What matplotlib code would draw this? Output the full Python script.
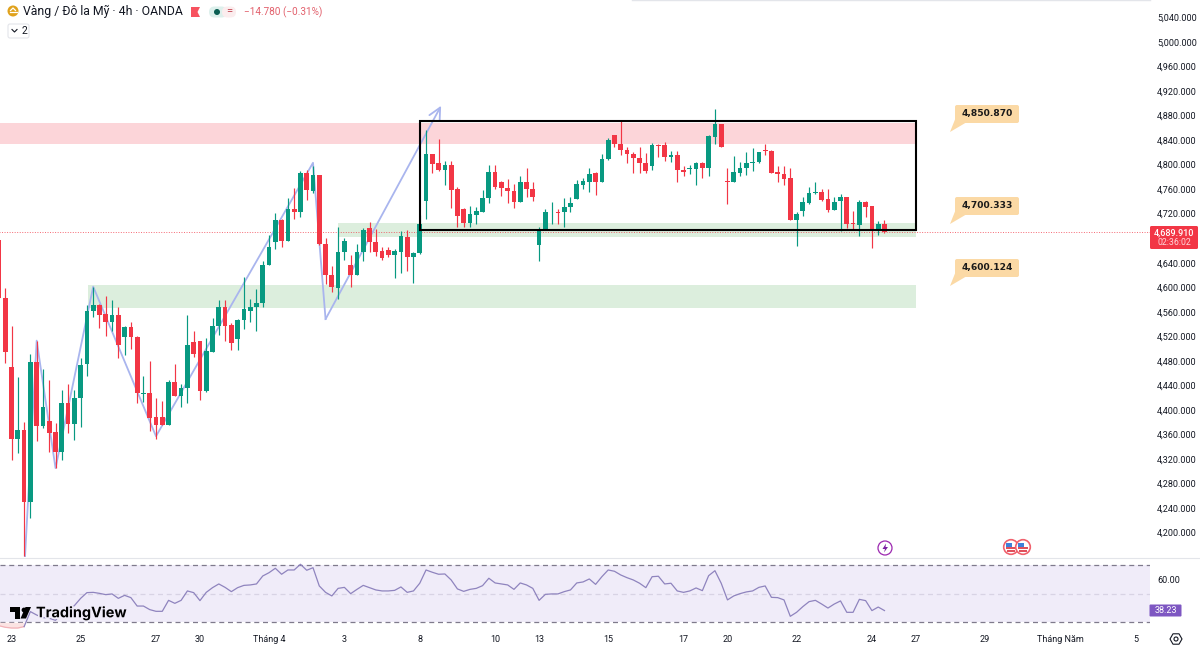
import matplotlib
matplotlib.use("Agg")
import matplotlib.pyplot as plt
import matplotlib.patheffects as pe
from matplotlib.patches import Circle, FancyBboxPatch, Polygon, Rectangle

plt.rcParams['font.family'] = ['Roboto', 'DejaVu Sans']

opens = [4677,4582,4470,4352,4367,4250,4478,4374,4382,4364,
         4332,4411,4377,4420,4475,4562,4571,4556,4543,4555,
         4519,4535,4519,4426,4428,4388,4388,4376,4445,4423,
         4436,4511,4512,4430,4495,4537,4567,4538,4516,4547,
         4562,4567,4574,4636,4673,4710,4675,4728,4723,4786,
         4757,4783,4671,4620,4599,4657,4637,4620,4657,4696,
         4674,4659,4660,4653,4658,4682,4650,4656,4740,4817,
         4802,4791,4799,4760,4728,4705,4718,4723,4745,4788,
         4772,4762,4757,4739,4771,4761,4669,4694,4722,4722,
         4722,4731,4744,4767,4772,4787,4771,4809,4848,4834,
         4824,4817,4810,4802,4797,4832,4832,4812,4816,4791,
         4793,4793,4803,4794,4845,4866,4773,4771,4786,4794,
         4802,4804,4824,4823,4788,4785,4778,4710,4724,4738,
         4753,4756,4744,4726,4740,4747,4704,4702,4739,4732,
         4692,4703]
closes = [4582,4495,4352,4367,4250,4478,4374,4405,4363,4332,
          4411,4377,4420,4473,4562,4571,4555,4543,4555,4506,
          4535,4519,4427,4428,4386,4376,4376,4445,4423,4436,
          4505,4491,4431,4496,4537,4567,4537,4509,4547,4565,
          4567,4574,4637,4666,4710,4675,4727,4723,4786,4758,
          4783,4671,4620,4600,4657,4676,4620,4657,4694,4674,
          4658,4647,4653,4659,4683,4650,4656,4703,4817,4801,
          4791,4799,4759,4716,4705,4719,4724,4746,4788,4763,
          4762,4757,4739,4771,4761,4748,4694,4722,4723,4721,
          4731,4738,4768,4773,4785,4771,4809,4840,4834,4824,
          4817,4810,4802,4789,4832,4831,4813,4816,4791,4788,
          4794,4803,4794,4846,4866,4829,4772,4788,4795,4803,
          4805,4820,4822,4787,4785,4777,4709,4719,4739,4754,
          4756,4742,4726,4739,4747,4703,4703,4739,4731,4693,
          4703,4689.91]
highs = [4677,4598,4536,4453,4381,4491,4513,4467,4448,4378,
         4432,4442,4432,4484,4571,4601,4573,4586,4579,4567,
         4537,4544,4520,4456,4480,4419,4415,4449,4475,4443,
         4555,4528,4512,4517,4550,4579,4579,4541,4549,4617,
         4581,4597,4642,4685,4721,4712,4746,4762,4790,4792,
         4797,4783,4680,4635,4699,4680,4652,4671,4696,4706,
         4695,4665,4665,4663,4691,4694,4658,4718,4856,4817,
         4842,4806,4806,4763,4729,4733,4731,4759,4800,4799,
         4773,4777,4768,4781,4794,4772,4699,4727,4739,4728,
         4745,4748,4775,4778,4794,4788,4818,4843,4849,4872,
         4828,4821,4829,4819,4836,4833,4837,4822,4823,4798,
         4799,4804,4805,4848,4891,4867,4794,4814,4805,4821,
         4827,4821,4833,4824,4797,4798,4794,4722,4747,4763,
         4771,4761,4760,4748,4752,4748,4724,4742,4741,4733,
         4708,4709]
lows = [4582,4477,4318,4329,4161,4223,4350,4370,4331,4305,
        4318,4362,4351,4372,4456,4551,4533,4521,4528,4485,
        4489,4499,4412,4413,4366,4352,4375,4375,4422,4404,
        4412,4486,4416,4429,4495,4522,4513,4498,4498,4532,
        4543,4529,4567,4636,4662,4666,4675,4712,4715,4742,
        4753,4669,4606,4593,4581,4644,4600,4620,4643,4658,
        4651,4644,4649,4615,4623,4627,4607,4654,4712,4787,
        4790,4767,4730,4699,4699,4699,4703,4723,4738,4760,
        4749,4737,4729,4739,4747,4740,4642,4693,4703,4703,
        4699,4723,4744,4761,4756,4750,4771,4808,4828,4816,
        4802,4786,4787,4787,4791,4812,4806,4804,4772,4781,
        4785,4767,4778,4781,4834,4829,4736,4771,4781,4783,
        4790,4803,4816,4786,4771,4766,4709,4667,4716,4735,
        4752,4741,4723,4726,4692,4696,4693,4684,4714,4664,
        4686,4688]
rsi_values = [27.6,26.5,26.0,26.0,
              27.0,37.5,35.1,33.3,32.8,31.4,36.3,38.6,41.7,46.8,
              50.8,51.0,50.3,49.4,49.9,46.8,48.9,47.3,41.4,41.4,
              38.9,37.7,37.7,45.4,43.3,45.4,52.0,50.8,45.2,51.0,
              54.3,56.9,54.5,51.5,54.3,55.9,56.2,56.9,62.5,64.8,
              67.9,63.7,66.7,66.7,70.7,66.5,68.3,55.5,51.0,48.5,
              53.8,54.5,50.1,53.1,55.9,54.3,52.7,52.0,52.0,52.4,
              54.8,51.0,52.0,57.4,66.7,65.1,63.7,63.9,59.7,53.4,
              51.7,53.1,53.8,55.7,60.9,57.6,56.9,56.2,53.1,57.6,
              56.2,53.8,45.4,49.6,49.9,49.9,51.5,52.7,57.6,58.3,
              60.4,56.6,62.0,66.7,65.8,63.2,61.3,59.7,57.4,54.3,
              62.0,62.3,56.9,57.4,52.0,51.0,52.0,54.1,52.2,62.7,
              66.2,57.4,45.7,48.5,50.1,51.3,52.0,54.5,55.5,47.5,
              47.3,45.7,34.2,37.0,41.0,44.5,45.4,42.8,40.0,42.8,
              45.0,37.0,37.0,46.1,45.2,38.2,40.7,38.23]
zigzag_x = [4.14, 6, 9, 15, 25, 50, 52, 70.4]
zigzag_p = [4160, 4513, 4305, 4601, 4357, 4803, 4548, 4896]

price_ticks = [p for p in range(4200, 5041, 40) if p != 4680]
date_pos = [2, 13, 25, 32, 43, 55, 67, 79, 86, 97, 109, 116, 127, 139, 146, 157, 169, 181]
date_labels = ['23', '25', '27', '30', 'Tháng 4', '3', '8', '10', '13', '15', '17', '20', '22', '24',
               '27', '29', 'Tháng Năm', '5']
callout_labels = ['4,850.870', '4,700.333', '4,600.124']
callout_tops = [105, 197, 259]
last_price = 4689.91
green = '#089981'
red = '#F23645'
ink = '#131722'
W, H = 1200, 649


def frame(x0, y0, x1, y1):
    return [x0 / W, 1 - y1 / H, (x1 - x0) / W, (y1 - y0) / H]


fig = plt.figure(figsize=(12, 6.49), dpi=100, facecolor='white')
ax = fig.add_axes(frame(0, 0, 1150, 557))
rs = fig.add_axes(frame(0, 558, 1150, 629), sharex=ax)
px = fig.add_axes([0, 0, 1, 1], zorder=10)
px.set_xlim(0, W)
px.set_ylim(H, 0)
px.axis('off')
px.patch.set_alpha(0)

idx = list(range(len(opens)))
ax.set_xlim(1 / 6.28, 1151 / 6.28)
ax.set_ylim(4160.04, 5068.5)
for s in ax.spines.values():
    s.set_visible(False)
for s in rs.spines.values():
    s.set_visible(False)
ax.yaxis.tick_right()
ax.set_yticks(price_ticks)
ax.set_yticklabels([f'{p:,}.000' for p in price_ticks], fontsize=6.5, color=ink)
ax.tick_params(axis='y', length=0, pad=5)
ax.tick_params(axis='x', length=0, labelbottom=False)

# zones
ax.fill_between([0, 146], 4833.7, 4868, color='#FCD5D9', lw=0, zorder=1)
ax.fill_between([54, 146], 4682.5, 4704, color='#DCEEDD', lw=0, zorder=1)
ax.fill_between([14.2, 146], 4566, 4603, color='#DCEEDD', lw=0, zorder=1)

# last price line
ax.plot([0, 184], [last_price, last_price], color=red, lw=0.7, ls=(0, (1, 1.6)), alpha=0.75, zorder=2)

# zigzag drawing
ax.plot(zigzag_x[:-1], zigzag_p[:-1], color='#A9B5EE', lw=1.3, zorder=3)
ax.annotate('', xy=(zigzag_x[-1], zigzag_p[-1]), xytext=(zigzag_x[-2], zigzag_p[-2]),
            arrowprops=dict(arrowstyle='->,head_length=0.85,head_width=0.42', color='#A9B5EE', lw=1.3,
                            shrinkA=0, shrinkB=0, mutation_scale=10), zorder=3)

# candles
colors = [green if c >= o else red for o, c in zip(opens, closes)]
ax.vlines(idx, lows, highs, colors=colors, lw=0.85, zorder=4)
ax.bar(idx, [max(abs(c - o), 1.2) for o, c in zip(opens, closes)],
       bottom=[min(o, c) for o, c in zip(opens, closes)], width=0.75, color=colors, lw=0, zorder=5)

# box
ax.add_patch(Rectangle((67, 4693.5), 79, 178, fill=False, ec='#000000', lw=1.5, zorder=6))

# RSI
rs.set_ylim(25.3, 75.1)
rs.axhspan(30, 70, color='#F0ECF9', lw=0, zorder=1)
for level, col, style in [(70, '#7F7A8C', (0, (4, 3))), (50, '#D8D3E4', (0, (4, 3))), (30, '#7F7A8C', (0, (4, 3)))]:
    rs.axhline(level, color=col, lw=0.9, ls=style, zorder=2)
rs_idx = list(range(len(rsi_values)))
rs.fill_between(rs_idx, rsi_values, 30, where=[v < 30 for v in rsi_values], color='#FBE3E3', lw=0, zorder=2)
rs.plot(rs_idx[:5], rsi_values[:5], color='#F2B2B8', lw=0.9, zorder=3)
rs.plot(rs_idx[4:], rsi_values[4:], color='#8F84BE', lw=0.9, zorder=3)
rs.yaxis.tick_right()
rs.set_yticks([60])
rs.set_yticklabels(['60.00'], fontsize=6.5, color=ink)
rs.tick_params(axis='y', length=0, pad=5)
rs.set_xticks(date_pos)
rs.set_xticklabels(date_labels, fontsize=6.5, color=ink)
rs.tick_params(axis='x', length=0, pad=4.5)

# pane separators
px.plot([0, 1200], [557.5, 557.5], color='#E3E5EA', lw=0.8)
px.plot([632, 1150], [0.3, 0.3], color='#E3E5EA', lw=1)

# header
px.add_patch(Circle((13, 11), 5.5, color='#E0A21C', lw=0))
px.plot([9.5, 16.5], [12, 12], color='white', lw=0.9)
px.plot([10.5, 13, 15.5], [10.5, 8, 10.5], color='white', lw=0.9)
px.text(23, 11.5, 'Vàng / Đô la Mỹ · 4h · OANDA', fontsize=8.8, color=ink, va='center', ha='left')
px.add_patch(Polygon([(191, 7), (200, 7), (197.5, 12), (200, 17), (191, 17)], color='#F7525F', lw=0))
px.add_patch(FancyBboxPatch((209, 6.5), 18, 11, boxstyle='round,pad=0,rounding_size=5.5', fc='#DDF0EC', ec='none'))
px.add_patch(FancyBboxPatch((222, 6.5), 14, 11, boxstyle='round,pad=0,rounding_size=5.5', fc='#FBEDEE', ec='none'))
px.add_patch(Circle((217, 12), 3, color='#0B5F53', lw=0))
px.text(229, 11.5, '=', fontsize=8, color='#C2414E', ha='center', va='center')
px.text(244, 12, '−14.780 (−0.31%)', fontsize=7.2, color='#E2606C', ha='left', va='center')
px.add_patch(FancyBboxPatch((8, 24), 21, 14, boxstyle='round,pad=0,rounding_size=2', fc='white', ec='#E3E5EA', lw=0.8))
px.plot([12, 14.5, 17], [29.5, 32, 29.5], color=ink, lw=0.8)
px.text(24, 31, '2', fontsize=7.5, color=ink, ha='center', va='center')

# callouts
for label, top in zip(callout_labels, callout_tops):
    px.add_patch(Polygon([(956, top + 12), (950, top + 27), (967, top + 17)], color='#FBD9A5', lw=0))
    px.add_patch(FancyBboxPatch((955, top), 64, 18, boxstyle='round,pad=0,rounding_size=2', fc='#FBD9A5', ec='none'))
    px.text(987.5, top + 8.8, label, fontsize=6.6, fontweight='bold', family='DejaVu Sans', color='#1a1a1a',
            ha='center', va='center')

# last price label
px.add_patch(FancyBboxPatch((1150, 226), 48, 23, boxstyle='round,pad=0,rounding_size=1.5', fc=red, ec='none'))
px.text(1174, 232.5, '4,689.910', fontsize=6.5, color='white', ha='center', va='center', fontweight='medium')
px.text(1174, 242.5, '02:36:02', fontsize=6.3, color='#FFD5DA', ha='center', va='center')
px.add_patch(FancyBboxPatch((1149.5, 604.5), 32, 12, boxstyle='round,pad=0,rounding_size=1', fc='#7E57C2', ec='none'))
px.text(1165.5, 610.8, '38.23', fontsize=6.5, color='white', ha='center', va='center')

# event icons
px.add_patch(Circle((885, 548), 7, fc='white', ec='#9C27B0', lw=0.9))
px.add_patch(Polygon([(886, 543.5), (882.5, 549), (885, 549), (884, 552.5), (888, 547), (885.5, 547)], color='#7B1FA2', lw=0))
for cx in (1011, 1023):
    px.add_patch(Circle((cx, 547), 7.3, fc='white', ec='#F0616D', lw=1.2))
    px.add_patch(Rectangle((cx - 5, 547), 10, 1.6, color='#E0505C', lw=0))
    px.add_patch(Rectangle((cx - 4, 550.2), 8, 1.4, color='#E0505C', lw=0))
    px.add_patch(Rectangle((cx - 5, 542.5), 5.5, 4.3, color='#3F7FD9', lw=0))

# gear
px.add_patch(Polygon([(1170, 639), (1173, 633.8), (1179, 633.8), (1182, 639), (1179, 644.2), (1173, 644.2)],
                     fc='white', ec=ink, lw=0.8))
px.add_patch(Circle((1176, 639), 2, fc='white', ec=ink, lw=0.8))

# TradingView mark
halo = [pe.withStroke(linewidth=2.5, foreground='#F0ECF9')]
px.add_patch(Polygon([(9.5, 607), (19.5, 607), (19.5, 618.5), (14.5, 618.5), (14.5, 612), (9.5, 612)], color='black', lw=0))
px.add_patch(Circle((24, 610), 2.4, color='black', lw=0))
px.add_patch(Polygon([(25.5, 607), (31, 607), (26, 618.5), (20.5, 618.5)], color='black', lw=0))
px.text(36, 613, 'TradingView', fontsize=10.4, fontweight='bold', family='Inter', color='black',
        ha='left', va='center', path_effects=halo)

fig.savefig('out.png', dpi=100, facecolor='white')
